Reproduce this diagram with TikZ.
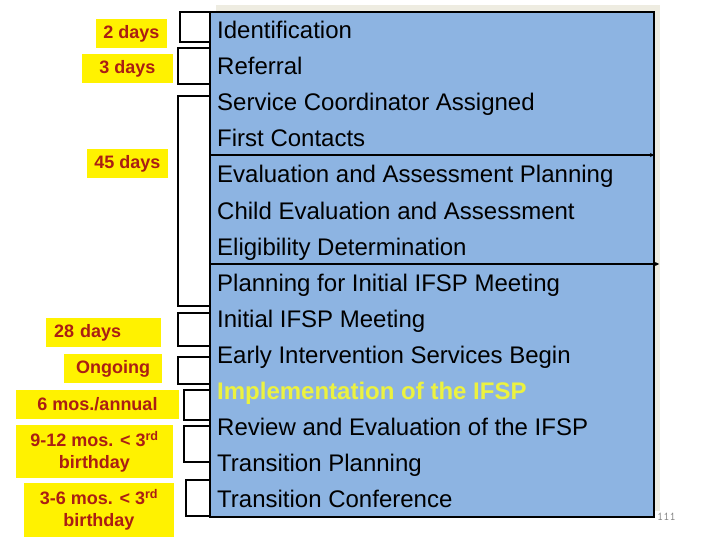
\documentclass[tikz,border=0pt]{standalone}
\usepackage{fontspec}
\setmainfont{Liberation Sans}
\usepackage{xcolor}
\usetikzlibrary{
    arrows.meta,
    calc,
    positioning
}
\definecolor{stepblue}{RGB}{141,180,226}
\definecolor{shadowgray}{RGB}{238,236,225}
\definecolor{daysred}{RGB}{170,30,20}
\definecolor{implyellow}{RGB}{236,242,64}
\tikzset{
    days/.style={fill=yellow, inner sep=6pt, text=daysred, align=center,
        font=\fontsize{18}{22}\selectfont\bfseries},
    stage/.style={anchor=base west, inner sep=0pt, font=\fontsize{24}{28}\selectfont},
    bracket/.style={draw=black, fill=white, line width=1.2pt}
}

\begin{document}
\begin{tikzpicture}[x=1pt, y=-1pt]
                        \useasboundingbox (0, 0) rectangle (720, 540);

                        % box with the stages
                        \fill[shadowgray] (216, 5) rectangle (660, 511);
                        \draw[fill=stepblue, line width=2pt] (210, 12) rectangle (654, 517);

                        \coordinate (ea0) at (210, 155);
                        \coordinate (ea1) at (654, 155);
                        \coordinate (pl0) at (210, 264);
                        \coordinate (pl1) at (659, 264);
                        \draw[line width=1.4pt, -{Stealth[length=4pt, width=4pt]}] (ea0) -- (ea1);
                        \draw[line width=1.4pt, -{Stealth[length=4pt, width=4pt]}] (pl0) -- (pl1);

                        \node[stage] (s1) at (217, 39) {Identification};
                        \node[stage] (s2) at (217, 75) {Referral};
                        \node[stage] (s3) at (217, 111) {Service Coordinator Assigned};
                        \node[stage] (s4) at (217, 147) {First Contacts};
                        \node[stage] (s5) at (217, 183) {Evaluation and Assessment Planning};
                        \node[stage] (s6) at (217, 219) {Child Evaluation and Assessment};
                        \node[stage] (s7) at (217, 255) {Eligibility Determination};
                        \node[stage] (s8) at (217, 291) {Planning for Initial IFSP Meeting};
                        \node[stage] (s9) at (217, 327) {Initial IFSP Meeting};
                        \node[stage] (s10) at (217, 363) {Early Intervention Services Begin};
                        \node[stage, text=implyellow, font=\fontsize{24}{28}\selectfont\bfseries] (s11) at (217, 399) {Implementation of the IFSP};
                        \node[stage] (s12) at (217, 435) {Review and Evaluation of the IFSP};
                        \node[stage] (s13) at (217, 471) {Transition Planning};
                        \node[stage] (s14) at (217, 507) {Transition Conference};

                        % brackets
                        \draw[bracket, line width=2pt] (180, 12) rectangle (210, 42);
                        \draw[bracket] (178, 48) rectangle (210, 84);
                        \draw[bracket] (178, 96) rectangle (210, 306);
                        \draw[bracket] (178, 313) rectangle (210, 346);
                        \draw[bracket] (178, 357) rectangle (210, 384);
                        \draw[bracket] (184, 390) rectangle (210, 420);
                        \draw[bracket] (184, 426) rectangle (210, 462);
                        \draw[bracket] (186, 480) rectangle (210, 516);

                        % time frames
                        \node[days, minimum width=71, minimum height=29] (d1) at (131.5, 33.5) {2 days};
                        \node[days, minimum width=91, minimum height=29] (d2) at (127.5, 68.5) {3 days};
                        \node[days, minimum width=81, minimum height=29] (d3) at (127.5, 163.5) {45 days};
                        \node[days, minimum width=115, minimum height=29, text width=99, align=left] (d4) at (103.5, 332.5) {28 days};
                        \node[days, minimum width=98, minimum height=29] (d5) at (113, 368.5) {Ongoing};
                        \node[days, minimum width=163, minimum height=29] (d6) at (97.5, 404.5) {6 mos./annual};
                        \node[days, minimum width=157, minimum height=51] (d7) at (94.5, 451.5) {9-12 mos. < 3\textsuperscript{rd}\\birthday};
                        \node[days, minimum width=150, minimum height=52] (d8) at (99, 510) {3-6 mos. < 3\textsuperscript{rd}\\birthday};

                        \node[anchor=south west, inner sep=0pt, text=gray, font=\fontsize{12}{14}\selectfont\ttfamily] (pg) at (657, 521) {111};
                    \end{tikzpicture}
\end{document}
